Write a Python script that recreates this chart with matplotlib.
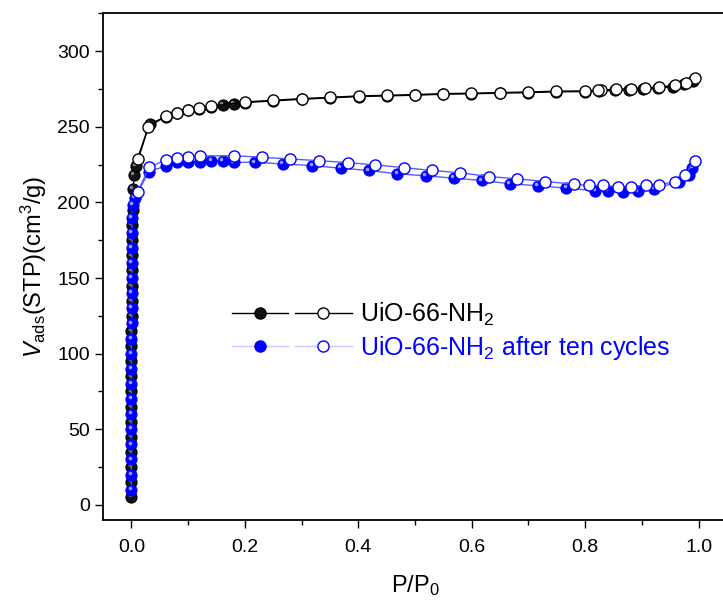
import numpy as np
import matplotlib
matplotlib.use('Agg')
import matplotlib.pyplot as plt
import matplotlib.transforms as mtransforms
from matplotlib.legend_handler import HandlerTuple
from matplotlib.lines import Line2D

plt.rcParams['font.family'] = ['Liberation Sans', 'DejaVu Sans']
plt.rcParams['mathtext.fontset'] = 'custom'
plt.rcParams['mathtext.rm'] = 'Liberation Sans'
plt.rcParams['mathtext.it'] = 'Liberation Sans:italic'

# UiO-66-NH2, adsorption (filled)
p_ads_1 = [0.000, 0.000, 0.000, 0.000, 0.000, 0.000, 0.000, 0.000, 0.000, 0.000,
           0.000, 0.000, 0.001, 0.001, 0.001, 0.001, 0.001, 0.001, 0.001, 0.002,
           0.003, 0.005, 0.008, 0.032, 0.061, 0.081, 0.100, 0.119, 0.141, 0.161,
           0.181, 0.200, 0.250, 0.300, 0.351, 0.401, 0.450, 0.500, 0.549, 0.599,
           0.649, 0.700, 0.749, 0.799, 0.825, 0.852, 0.877, 0.902, 0.928, 0.955,
           0.974, 0.990]
v_ads_1 = [5, 15, 25, 35, 45, 55, 65, 75, 85, 95,
           105, 115, 125, 135, 145, 155, 165, 175, 185, 195,
           209, 218, 224, 252, 256.5, 259, 261, 262, 263.2, 264.7,
           265.3, 266.0, 267.1, 268.2, 269.1, 270.0, 270.4, 270.9, 271.5, 271.8,
           272.2, 272.6, 273.1, 273.3, 273.6, 274.0, 274.4, 274.9, 275.5, 276.6,
           278.0, 280.5]

# UiO-66-NH2, desorption (open)
p_des_1 = [0.993, 0.977, 0.958, 0.931, 0.905, 0.880, 0.855, 0.828, 0.822, 0.799,
           0.749, 0.700, 0.649, 0.599, 0.549, 0.500, 0.450, 0.401, 0.351, 0.300,
           0.250, 0.200, 0.141, 0.119, 0.100, 0.081, 0.061, 0.030, 0.011]
v_des_1 = [282.2, 278.9, 277.4, 276.3, 275.7, 275.2, 274.8, 274.3, 274.1, 273.7,
           273.5, 273.0, 272.6, 272.2, 271.9, 271.3, 270.8, 270.4, 269.5, 268.6,
           267.5, 266.4, 263.6, 262.5, 261.4, 259.4, 257.0, 250.0, 229.0]

# UiO-66-NH2 after ten cycles, adsorption (filled)
p_ads_2 = [0.000, 0.000, 0.000, 0.000, 0.000, 0.000, 0.000, 0.000, 0.000, 0.000,
           0.000, 0.001, 0.001, 0.001, 0.001, 0.001, 0.001, 0.001, 0.001, 0.002,
           0.006, 0.031, 0.061, 0.081, 0.100, 0.121, 0.141, 0.161, 0.181, 0.218,
           0.267, 0.319, 0.369, 0.419, 0.469, 0.519, 0.568, 0.618, 0.668, 0.717,
           0.767, 0.818, 0.840, 0.867, 0.893, 0.922, 0.966, 0.983, 0.989]
v_ads_2 = [10, 20, 30, 40, 50, 60, 70, 80, 90, 100,
           110, 120, 130, 140, 150, 160, 170, 180, 190, 198.5,
           203, 220.4, 224.1, 226.5, 227, 227, 227.4, 227.4, 226.5, 226.5,
           225.4, 224.3, 222.6, 221.1, 218.9, 217.6, 216.0, 214.5, 212.3, 211.0,
           209.4, 207.7, 207.7, 206.8, 207.2, 209.0, 213.8, 218.2, 222.6]

# UiO-66-NH2 after ten cycles, desorption (open)
p_des_2 = [0.993, 0.976, 0.958, 0.931, 0.907, 0.881, 0.857, 0.831, 0.807, 0.781,
           0.730, 0.680, 0.630, 0.580, 0.530, 0.480, 0.430, 0.381, 0.330, 0.280,
           0.230, 0.181, 0.121, 0.100, 0.081, 0.061, 0.031, 0.011]
v_des_2 = [227.6, 218.2, 213.8, 211.6, 211.2, 210.5, 210.5, 211.2, 211.2, 212.0,
           213.8, 215.6, 217.1, 219.6, 221.1, 223.0, 224.8, 226.3, 227.6, 228.7,
           229.8, 230.9, 230.7, 230.3, 229.2, 228.1, 223.2, 206.8]

labels = ['UiO-66-NH$_2$', 'UiO-66-NH$_2$ after ten cycles']

fig = plt.figure(figsize=(7.23, 6.01), dpi=100)
ax = fig.add_axes([0.1425, 0.1348, 0.863, 0.843])

ms = 8
blue = '#0000ff'
blue_line = '#5a5aff'

# highlight offset to give the filled balls a bit of shading
hl = mtransforms.offset_copy(ax.transData, fig=fig, x=-1.3, y=1.3, units='points')


def ball(x, y, face, edge, shine, z):
    ax.plot(x, y, 'o', ms=ms, mfc=face, mec=edge, mew=0.8, zorder=z)
    ax.plot(x, y, 'o', ms=2.6, mfc=shine, mec='none', alpha=0.8, transform=hl, zorder=z + 0.1)


# black sample
ax.plot(p_ads_1, v_ads_1, '-', color='black', lw=1, zorder=2)
ball(p_ads_1, v_ads_1, '#111111', 'black', '#9a9a9a', 2.2)
ax.plot(p_des_1, v_des_1, '-o', color='black', lw=1, ms=ms, mfc='white', mec='black', mew=1, zorder=3)

# blue sample
ax.plot(p_ads_2, v_ads_2, '-', color=blue_line, lw=1, zorder=4)
ball(p_ads_2, v_ads_2, blue, blue, '#c0c0ff', 4.2)
ax.plot(p_des_2, v_des_2, '-o', color=blue_line, lw=1, ms=ms, mfc='white', mec=blue, mew=1, zorder=5)

ax.set_xlim(-0.05, 1.05)
ax.set_ylim(-10, 325)
ax.set_xticks(np.arange(0, 1.01, 0.2))
ax.set_xticks(np.arange(0.1, 1.1, 0.2), minor=True)
ax.set_yticks(np.arange(0, 301, 50))
ax.set_yticks(np.arange(25, 326, 50), minor=True)
ax.xaxis.set_major_formatter(plt.FormatStrFormatter('%.1f'))
ax.tick_params(which='both', direction='out', width=1, labelsize=14)
ax.tick_params(which='major', length=6)
ax.tick_params(which='minor', length=3.5)
ax.tick_params(axis='x', pad=8)
for s in ax.spines.values():
    s.set_linewidth(1.3)
    s.set_color('black')

ax.set_xlabel('P/P$_0$', fontsize=17, labelpad=12)
ax.set_ylabel(r'$\mathit{V}_{\mathrm{ads}}$(STP)(cm$^3$/g)', fontsize=17, labelpad=6)

# legend: filled + open handle side by side
h1 = (Line2D([], [], color='black', lw=1, marker='o', ms=ms, mfc='#111111', mec='black'),
      Line2D([], [], color='black', lw=1, marker='o', ms=ms, mfc='white', mec='black'))
h2 = (Line2D([], [], color='#c8c8ff', lw=1, marker='o', ms=ms, mfc=blue, mec=blue),
      Line2D([], [], color='#c8c8ff', lw=1, marker='o', ms=ms, mfc='white', mec=blue))
leg = ax.legend([h1, h2], labels, handler_map={tuple: HandlerTuple(ndivide=None, pad=0.3)},
                loc='upper left', bbox_to_anchor=(0.19, 0.452), frameon=False,
                fontsize=18, handlelength=4.8, handletextpad=0.35, labelspacing=0.22,
                borderaxespad=0)
leg.get_texts()[0].set_color('black')
leg.get_texts()[1].set_color(blue)

fig.savefig('out.png', dpi=100)
